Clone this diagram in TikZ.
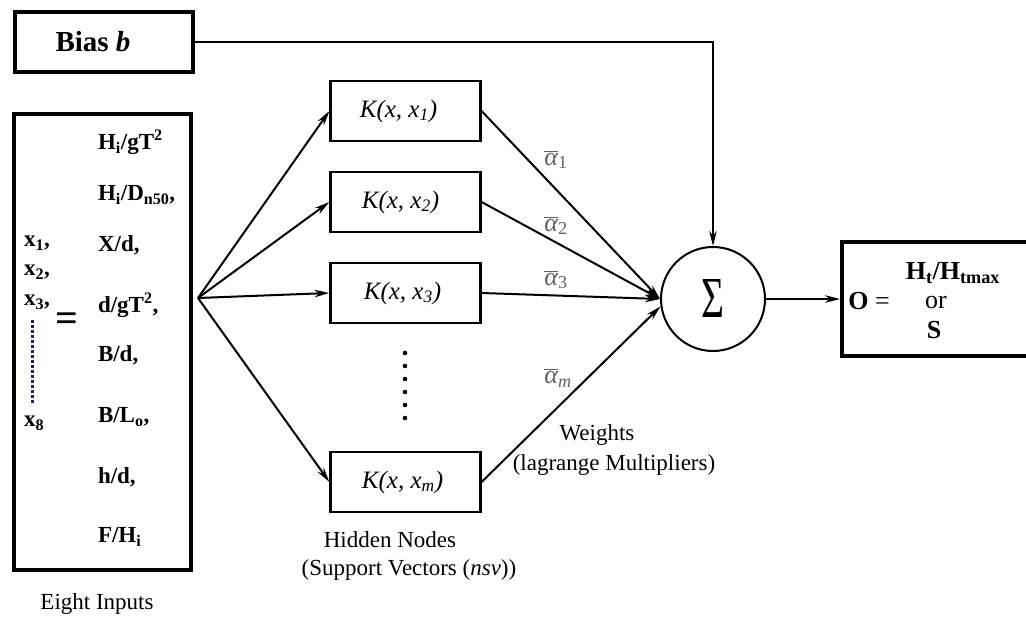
\documentclass[tikz,border=0pt]{standalone}
\usepackage{fontspec}
\setmainfont{Liberation Serif}
\usetikzlibrary{arrows.meta}

\definecolor{wgray}{gray}{0.38}
\definecolor{dotnavy}{RGB}{40,30,90}

\newcommand{\wbar}[1]{$\overline{\hbox{\itshape α}}$\textsubscript{#1}}

\tikzset{
  thickbox/.style={draw, line width=4pt, rectangle},
  kbox/.style={draw, line width=2.2pt, rectangle, minimum width=150pt, minimum height=60pt,
    font=\fontsize{25}{28}\selectfont\itshape},
  inp/.style={anchor=west, inner sep=0pt, font=\fontsize{23}{26}\selectfont\bfseries},
  wlabel/.style={text=wgray, font=\fontsize{26}{28}\selectfont},
  lbl/.style={font=\fontsize{23}{26}\selectfont},
  outtext/.style={font=\fontsize{26}{28}\selectfont, inner sep=1pt},
}

\begin{document}
\begin{tikzpicture}[x=1pt, y=-1pt, line width=2pt, >={Stealth[length=15pt,width=7.5pt]}]
  \useasboundingbox (0,0) rectangle (1026,618);

  \node[thickbox, minimum width=178pt, minimum height=60pt,
        font=\fontsize{29}{31}\selectfont\bfseries] (bias) at (104,42) {Bias \textit{b}\kern22pt};

  \node[thickbox, minimum width=177pt, minimum height=456pt] (inbox) at (102.5,342) {};
  \node[inp] (i1) at (97,142) {H\textsubscript{i}/gT\textsuperscript{2}};
  \node[inp] (i2) at (97,195) {H\textsubscript{i}/D\textsubscript{n50},};
  \node[inp] (i3) at (97,245) {X/d,};
  \node[inp] (i4) at (97,305) {d/gT\textsuperscript{2},};
  \node[inp] (i5) at (97,355) {B/d,};
  \node[inp] (i6) at (97,417) {B/L\textsubscript{o},};
  \node[inp] (i7) at (97,477) {h/d,};
  \node[inp] (i8) at (97,537) {F/H\textsubscript{i}};

  \node[inp] (x1) at (23,243) {x\textsubscript{1},};
  \node[inp] (x2) at (23,272) {x\textsubscript{2},};
  \node[inp] (x3) at (23,302) {x\textsubscript{3},};
  \node[inp] (x8) at (23,423) {x\textsubscript{8}};
  \draw[dotnavy, line width=3pt, dash pattern=on 3pt off 2pt] (32,320) -- (32,405);
  \node[font=\fontsize{40}{40}\selectfont\bfseries] (eq) at (67,322) {=};
  \node[lbl] (eight) at (97,604) {Eight Inputs};

  \coordinate (fan) at (198,298);

  \node[kbox] (k1) at (405.5,111) {K(x, x\textsubscript{1})\kern14pt};
  \node[kbox] (k2) at (405.5,202) {K(x, x\textsubscript{2})\kern10pt};
  \node[kbox] (k3) at (405.5,293) {K(x, x\textsubscript{3})\kern6pt};
  \node[kbox] (km) at (405.5,482) {K(x, x\textsubscript{m})\kern6pt};
  \foreach \y in {353,366,...,420}
    \fill (405,\y) circle (2.3pt);

  \node[lbl] (hid1) at (390,540) {Hidden Nodes};
  \node[lbl] (hid2) at (409,570) {(Support Vectors (\textit{nsv}))};

  \node[circle, draw, minimum size=104pt, inner sep=0pt,
        font=\fontsize{58}{58}\selectfont] (sum) at (713,299) {\scalebox{0.68}[1]{Σ}};

  \node[thickbox, anchor=west, minimum width=200pt, minimum height=114pt] (out) at (840,299) {};
  \node[outtext] (oeq) at (869,301) {\textbf{O} =};
  \node[outtext] (ht) at (953,273) {\textbf{H\textsubscript{t}/H\textsubscript{tmax}}};
  \node[outtext] (or) at (936,302) {or};
  \node[outtext] (s) at (934,330) {\textbf{S}};

  \draw[->] (fan) -- (k1.west);
  \draw[->] (fan) -- (k2.west);
  \draw[->] (fan) -- (k3.west);
  \draw[->] (fan) -- (km.west);

  \draw[->] (k1.east) -- (sum.west);
  \draw[->] (k2.east) -- (sum.west);
  \draw[->] (k3.east) -- (sum.west);
  \draw[->] (km.east) -- (sum.188);
  \node[wlabel] (a1) at (556,160) {\wbar{1}};
  \node[wlabel] (a2) at (556,226) {\wbar{2}};
  \node[wlabel] (a3) at (556,280) {\wbar{3}};
  \node[wlabel] (am) at (558,378) {\wbar{\textit{m}}};

  \node[lbl] (w1) at (597,435) {Weights};
  \node[lbl] (w2) at (614,465) {(lagrange Multipliers)};

  \draw[->] (bias.east) -| (sum.north);
  \draw[->] (sum.east) -- (out.west);
\end{tikzpicture}
\end{document}
